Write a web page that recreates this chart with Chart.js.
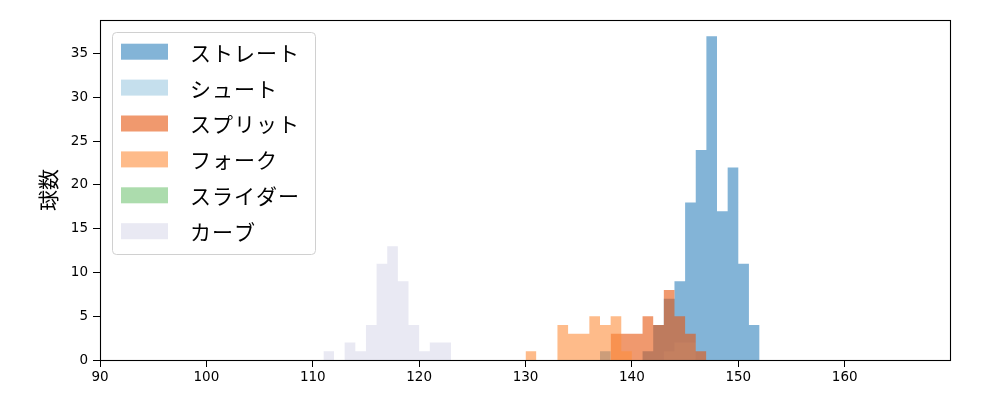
<!DOCTYPE html>
<html><head><meta charset="utf-8">
<script src="https://cdn.jsdelivr.net/npm/chart.js@4"></script>
<style>html,body{margin:0;padding:0;background:#fff}#wrap{width:1000px;height:400px;position:relative}</style>
</head><body><div id="wrap"><canvas id="c"></canvas></div>
<script>
// ---- data (bin left edge in km/h, bin width 1) ----
const seriesNames = ['ストレート','シュート','スプリット','フォーク','スライダー','カーブ'];
const seriesColors = ['rgba(49,130,189,0.6)','rgba(158,202,225,0.6)','rgba(230,85,13,0.6)','rgba(253,141,60,0.6)','rgba(116,196,118,0.6)','rgba(218,218,235,0.6)'];
const straightBins = [137,141,142,143,144,145,146,147,148,149,150,151];
const straightCounts = [1,1,4,7,9,18,24,37,17,22,11,4];
const shootBins = [143,144,145];
const shootCounts = [1,2,2];
const splitBins = [138,139,140,141,142,143,144,145,146];
const splitCounts = [3,3,3,5,4,8,5,3,1];
const forkBins = [130,133,134,135,136,137,138,139];
const forkCounts = [1,4,3,3,5,4,5,1];
const sliderBins = [];
const sliderCounts = [];
const curveBins = [111,113,114,115,116,117,118,119,120,121,122];
const curveCounts = [1,2,1,4,11,13,9,4,1,2,2];
const xTicks = [90,100,110,120,130,140,150,160];
const yTicks = [0,5,10,15,20,25,30,35];
const yLabel = '球数';

const allBins = [straightBins, shootBins, splitBins, forkBins, sliderBins, curveBins];
const allCounts = [straightCounts, shootCounts, splitCounts, forkCounts, sliderCounts, curveCounts];

// histogram outline as stepped points (each bin's count holds over [bin, bin+1])
function stepPoints(bins, counts) {
  const pts = [];
  bins.forEach((b, j) => {
    pts.push({x: b, y: counts[j]});
    if (j === bins.length - 1 || bins[j + 1] !== b + 1) pts.push({x: b + 1, y: 0});
  });
  return pts;
}

const datasets = seriesNames.map((name, i) => ({
  label: name,
  data: stepPoints(allBins[i], allCounts[i]),
  backgroundColor: seriesColors[i],
  borderColor: 'rgba(0,0,0,0)',
  borderWidth: 0,
  pointRadius: 0,
  pointHoverRadius: 0,
  stepped: true,
  fill: 'origin',
  order: seriesNames.length - i
}));

const framePlugin = {
  id: 'frameLegend',
  afterDraw(chart) {
    const ctx = chart.ctx, a = chart.chartArea;
    ctx.save();
    ctx.strokeStyle = '#000';
    ctx.lineWidth = 1.1;
    ctx.strokeRect(Math.round(a.left) + 0.5, Math.round(a.top) + 0.5, Math.round(a.right - a.left), Math.round(a.bottom - a.top));
    // legend
    const lx = 112.5, ly = 32.5, lw = 203, lh = 222;
    ctx.beginPath();
    ctx.roundRect(lx, ly, lw, lh, 4);
    ctx.fillStyle = 'rgba(255,255,255,0.8)';
    ctx.fill();
    ctx.strokeStyle = '#d0d0d0';
    ctx.lineWidth = 1;
    ctx.stroke();
    ctx.font = '21px "Noto Sans CJK JP"';
    ctx.textBaseline = 'middle';
    ctx.textAlign = 'left';
    try { ctx.letterSpacing = '1px'; } catch (e) {}
    chart.data.datasets.forEach((ds, i) => {
      const cy = 51.7 + 35.9 * i;
      ctx.fillStyle = '#fff';
      ctx.fillRect(121, cy - 8, 47, 16);
      ctx.fillStyle = ds.backgroundColor;
      ctx.fillRect(121, cy - 8, 47, 16);
      ctx.fillStyle = '#000';
      ctx.fillText(ds.label, 190, cy + 1);
    });
    ctx.restore();
  }
};

new Chart(document.getElementById('c'), {
  type: 'line',
  data: { datasets },
  options: {
    responsive: true,
    maintainAspectRatio: false,
    animation: false,
    layout: { padding: { left: 0, right: 50, top: 20, bottom: 0 } },
    plugins: { legend: { display: false }, tooltip: { enabled: false } },
    elements: { line: { tension: 0 } },
    scales: {
      x: {
        type: 'linear',
        min: 90, max: 169.9,
        offset: false,
        afterBuildTicks: (s) => { s.ticks = xTicks.map(v => ({value: v})); },
        afterFit: (s) => { s.height = 40; },
        grid: { display: true, offset: false, drawOnChartArea: false, drawTicks: true, tickLength: 7, color: '#000', lineWidth: 1 },
        border: { display: false },
        ticks: { color: '#000', padding: 2, maxRotation: 0, font: { family: '"DejaVu Sans"', size: 13.5 }, callback: (v) => String(v) }
      },
      y: {
        type: 'linear',
        min: 0, max: 38.85,
        afterBuildTicks: (s) => { s.ticks = yTicks.map(v => ({value: v})); },
        afterFit: (s) => { s.width = 100; },
        grid: { display: true, offset: false, drawOnChartArea: false, drawTicks: true, tickLength: 7, color: '#000', lineWidth: 1 },
        border: { display: false },
        ticks: { color: '#000', padding: 5, font: { family: '"DejaVu Sans"', size: 13.5 }, callback: (v) => String(v) },
        title: { display: true, text: yLabel, color: '#000', font: { family: '"Noto Sans CJK JP"', size: 21 }, padding: { top: 35, bottom: 0 } }
      }
    }
  },
  plugins: [framePlugin]
});
</script></body></html>
